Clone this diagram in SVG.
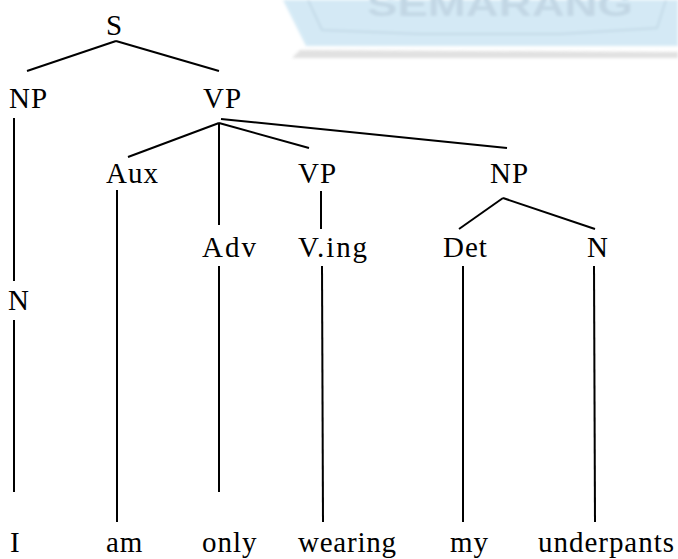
<svg xmlns="http://www.w3.org/2000/svg" width="678" height="559" viewBox="0 0 678 559">
  <defs>
    <filter id="soft" x="-5%" y="-20%" width="110%" height="140%">
      <feGaussianBlur stdDeviation="1.6"/>
    </filter>
  </defs>
  <style>
    text.lbl { font-family: 'Liberation Serif', 'DejaVu Serif', serif; font-size: 29px; fill: #000; letter-spacing: 1px; }
    .edge { stroke: #000; stroke-width: 2; fill: none; }
  </style>
  <rect width="678" height="559" fill="#fff"/>

  <!-- faded emblem band along the top edge -->
  <g id="emblem" filter="url(#soft)" opacity="0.85">
    <path d="M 292 58 L 678 58 L 678 52 L 300 50 Z" fill="#dcdcdc"/>
    <path d="M 283 0 L 678 0 L 678 46 L 306 46 Z" fill="#cde6f4"/>
    <path d="M 308 0 L 322 30 L 420 34 L 560 34 L 657 28 L 666 0" fill="none" stroke="#b9d3e3" stroke-width="2"/>
    <text x="367" y="16" font-family="Liberation Sans, Arial, sans-serif" font-size="34" font-weight="bold" fill="#b8d0e0" textLength="266" lengthAdjust="spacingAndGlyphs">SEMARANG</text>
  </g>

  <!-- connectors -->
  <g id="connectors">
    <line class="edge" x1="116" y1="41" x2="27" y2="71"/>
    <line class="edge" x1="116" y1="41" x2="219" y2="71"/>
    <line class="edge" x1="14" y1="118" x2="14" y2="281"/>
    <line class="edge" x1="14" y1="320" x2="14" y2="492"/>
    <line class="edge" x1="219" y1="123" x2="128" y2="157"/>
    <line class="edge" x1="219" y1="123" x2="219" y2="225"/>
    <line class="edge" x1="219" y1="123" x2="309" y2="148"/>
    <line class="edge" x1="221" y1="119" x2="507" y2="148"/>
    <line class="edge" x1="117" y1="190" x2="117" y2="522"/>
    <line class="edge" x1="219" y1="266" x2="219" y2="492"/>
    <line class="edge" x1="321" y1="191" x2="321" y2="229"/>
    <line class="edge" x1="322" y1="266" x2="323" y2="522"/>
    <line class="edge" x1="503" y1="198" x2="459" y2="229"/>
    <line class="edge" x1="503" y1="198" x2="595" y2="229"/>
    <line class="edge" x1="463" y1="266" x2="463" y2="522"/>
    <line class="edge" x1="594" y1="266" x2="595" y2="522"/>
  </g>

  <!-- phrase and category nodes -->
  <g id="node-S"><text class="lbl" x="106" y="35">S</text></g>
  <g id="node-NP-subj"><text class="lbl" x="9" y="108">NP</text></g>
  <g id="node-VP-main"><text class="lbl" x="203" y="108">VP</text></g>
  <g id="node-Aux"><text class="lbl" x="106" y="183">Aux</text></g>
  <g id="node-VP-inner"><text class="lbl" x="298" y="183">VP</text></g>
  <g id="node-NP-obj"><text class="lbl" x="490" y="183">NP</text></g>
  <g id="node-Adv"><text class="lbl" x="202" y="257" textLength="55">Adv</text></g>
  <g id="node-Ving"><text class="lbl" x="298" y="257" textLength="70">V.ing</text></g>
  <g id="node-Det"><text class="lbl" x="443" y="257">Det</text></g>
  <g id="node-N-obj"><text class="lbl" x="587" y="257">N</text></g>
  <g id="node-N-subj"><text class="lbl" x="8" y="310">N</text></g>

  <!-- words -->
  <g id="word-I"><text class="lbl" x="10" y="552">I</text></g>
  <g id="word-am"><text class="lbl" x="106" y="552">am</text></g>
  <g id="word-only"><text class="lbl" x="202" y="552">only</text></g>
  <g id="word-wearing"><text class="lbl" x="298" y="552" textLength="99">wearing</text></g>
  <g id="word-my"><text class="lbl" x="450" y="552">my</text></g>
  <g id="word-underpants"><text class="lbl" x="538" y="552" textLength="137">underpants</text></g>
</svg>
